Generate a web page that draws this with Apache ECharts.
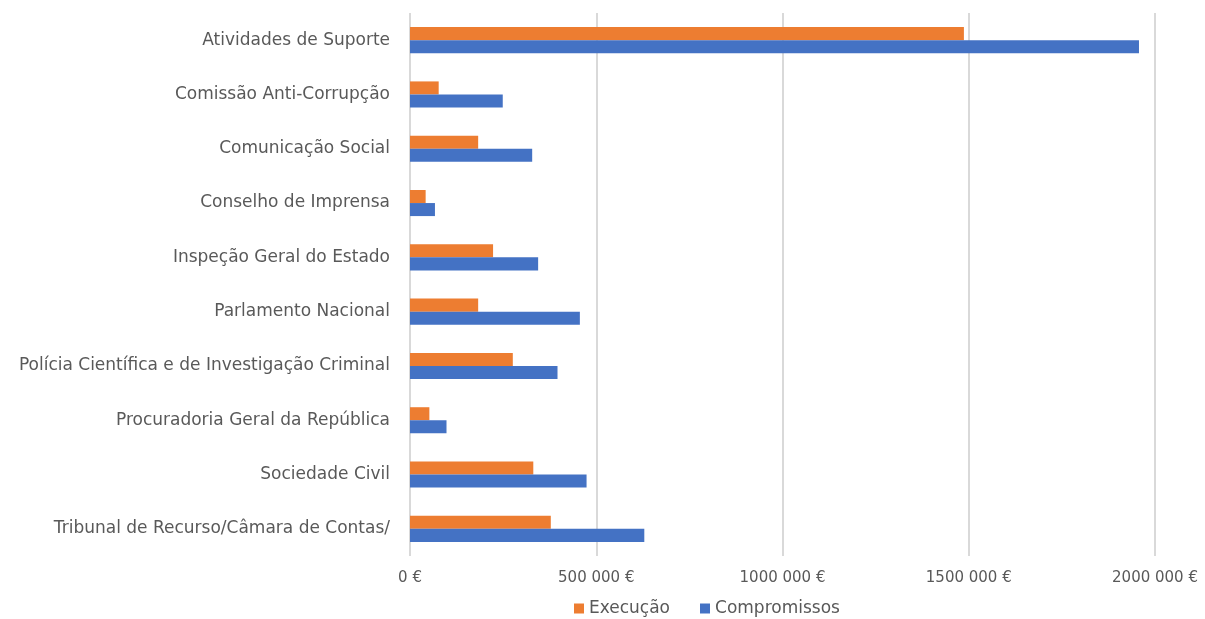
<!DOCTYPE html>
<html><head><meta charset="utf-8">
<script src="https://cdn.jsdelivr.net/npm/echarts@6/dist/echarts.min.js"></script>
<style>html,body{margin:0;padding:0;background:#fff}#c{width:1205px;height:619px}</style>
</head><body><div id="c"></div>
<script>
const categories = ["Atividades de Suporte","Comissão Anti-Corrupção","Comunicação Social","Conselho de Imprensa","Inspeção Geral do Estado","Parlamento Nacional","Polícia Científica e de Investigação Criminal","Procuradoria Geral da República","Sociedade Civil","Tribunal de Recurso/Câmara de Contas/"];
const execucao = [1487000, 77000, 183000, 42000, 223000, 183000, 276000, 52000, 331000, 378000];
const compromissos = [1957000, 249000, 328000, 67000, 344000, 456000, 396000, 98000, 474000, 629000];
const tickLabels = ["0 €","500 000 €","1000 000 €","1500 000 €","2000 000 €"];
const tickStep = 500000;

const chart = echarts.init(document.getElementById('c'), null, {renderer:'canvas'});
const font = 'DejaVu Sans, sans-serif';
chart.setOption({
  animation:false,
  textStyle:{fontFamily:font},
  grid:{left:410, right:50, top:13, bottom:63, containLabel:false},
  legend:{
    data:['Execução','Compromissos'], top:595, left:569,
    itemWidth:10, itemHeight:10, icon:'rect', itemGap:30,
    textStyle:{color:'#595959', fontSize:17, fontFamily:font}
  },
  xAxis:{
    type:'value', min:0, max:2000000, interval:tickStep,
    axisLine:{show:false}, axisTick:{show:false},
    splitLine:{show:true, lineStyle:{color:'#d9d9d9', width:2}},
    axisLabel:{color:'#595959', fontSize:15, margin:15,
      formatter:(v)=>tickLabels[Math.round(v/tickStep)]}
  },
  yAxis:{
    type:'category', data:categories, inverse:true,
    axisLine:{show:false}, axisTick:{show:false},
    axisLabel:{color:'#595959', fontSize:17, margin:20}
  },
  series:[
    {name:'Execução', type:'bar', data:execucao, itemStyle:{color:'#ED7D31'}, barGap:'0%', barCategoryGap:'52%'},
    {name:'Compromissos', type:'bar', data:compromissos, itemStyle:{color:'#4472C4'}, barGap:'0%', barCategoryGap:'52%'}
  ]
});
</script></body></html>
